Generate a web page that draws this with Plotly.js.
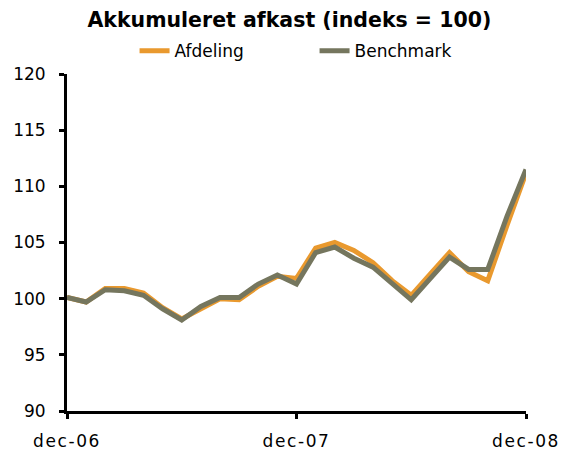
<!DOCTYPE html>
<html>
<head>
<meta charset="utf-8">
<script src="https://cdn.plot.ly/plotly-3.0.1.min.js"></script>
<style>
html,body{margin:0;padding:0;background:#fff;}
#chart{width:563px;height:453px;}
.xtick text{letter-spacing:1.6px;}
</style>
</head>
<body>
<div id="chart"></div>
<script>
const months = [0,1,2,3,4,5,6,7,8,9,10,11,12,13,14,15,16,17,18,19,20,21,22,23,24];
const afdeling = [100.1,99.7,100.9,100.9,100.5,99.2,98.2,99.1,100.0,99.9,101.1,102.0,101.8,104.5,105.0,104.3,103.2,101.6,100.3,102.2,104.1,102.4,101.6,106.5,111.2];
const benchmark = [100.1,99.7,100.8,100.7,100.3,99.1,98.1,99.3,100.1,100.1,101.3,102.1,101.3,104.1,104.6,103.6,102.8,101.3,99.9,101.8,103.7,102.6,102.6,107.3,111.5];
const tickVals = [0,12,24];
const tickText = ['dec-06','dec-07','dec-08'];

const traces = [
  {x: months, y: afdeling, name: 'Afdeling', type: 'scatter', mode: 'lines',
   line: {color: '#E9992E', width: 5}, cliponaxis: false},
  {x: months, y: benchmark, name: 'Benchmark', type: 'scatter', mode: 'lines',
   line: {color: '#75765E', width: 5}, cliponaxis: false}
];

const layout = {
  width: 563, height: 453,
  paper_bgcolor: '#fff', plot_bgcolor: '#fff',
  margin: {l: 67, r: 37, t: 74, b: 42},
  font: {family: 'DejaVu Sans, Verdana, sans-serif', size: 16, color: '#000'},
  title: {text: '<b>Akkumuleret afkast (indeks = 100)</b>', xref: 'container', x: 0.514, xanchor: 'center',
          yref: 'container', y: 0.957, yanchor: 'middle',
          font: {size: 20.5, family: 'DejaVu Sans, Verdana, sans-serif', color: '#000'}},
  showlegend: true,
  legend: {orientation: 'h', xref: 'container', x: 0.239, xanchor: 'left',
           yref: 'container', y: 0.887, yanchor: 'middle',
           font: {size: 17}, entrywidth: 135, entrywidthmode: 'pixels', tracegroupgap: 0},
  xaxis: {range: [0, 24], tickvals: tickVals, ticktext: tickText, showgrid: false, zeroline: false,
          showline: true, linecolor: '#000', linewidth: 3, ticks: 'outside', ticklen: 5, tickwidth: 3,
          tickcolor: '#000', ticklabelstandoff: 8, tickfont: {size: 17}},
  yaxis: {range: [90, 120], dtick: 5, tick0: 90, showgrid: false, zeroline: false,
          showline: true, linecolor: '#000', linewidth: 3, ticks: 'outside', ticklen: 5, tickwidth: 3,
          tickcolor: '#000', ticklabelstandoff: 10, tickfont: {size: 17}}
};

Plotly.newPlot('chart', traces, layout, {displayModeBar: false, staticPlot: true});
</script>
</body>
</html>
